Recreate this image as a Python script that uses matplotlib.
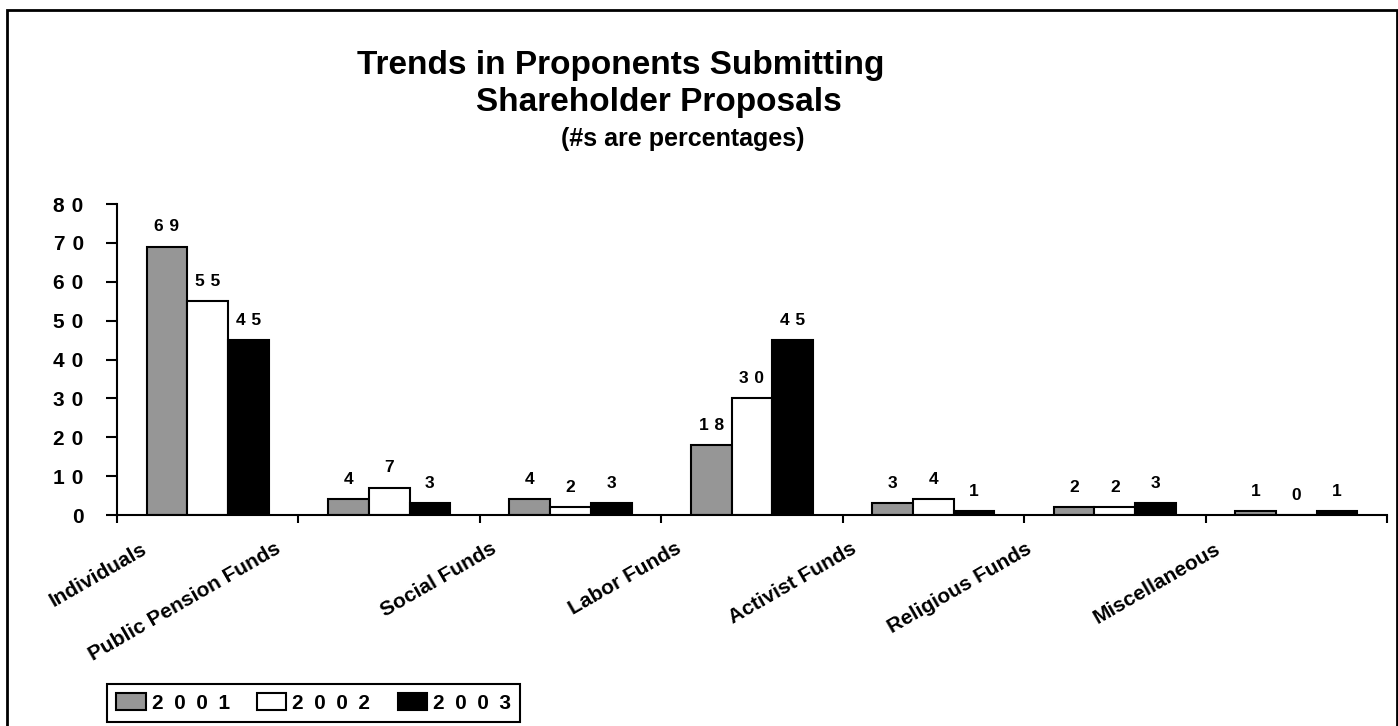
import numpy as np
import matplotlib
matplotlib.use("Agg")
import matplotlib.pyplot as plt
from matplotlib.patches import Rectangle
from matplotlib.transforms import ScaledTranslation, blended_transform_factory

plt.rcParams['font.family'] = ['Liberation Sans', 'DejaVu Sans']
plt.rcParams['font.weight'] = 'bold'

# --- data ---
categories = ["Individuals", "Public Pension Funds", "Social Funds", "Labor Funds",
              "Activist Funds", "Religious Funds", "Miscellaneous"]
years = ["2001", "2002", "2003"]
pct_2001 = [69, 4, 4, 18, 3, 2, 1]
pct_2002 = [55, 7, 2, 30, 4, 2, 0]
pct_2003 = [45, 3, 3, 45, 1, 3, 1]
y_ticks = [0, 10, 20, 30, 40, 50, 60, 70, 80]

colours = ["#969696", "#ffffff", "#000000"]
# the category labels sit a bit off the tick marks, like excel put them
label_shift = [0.17, -0.09, 0.10, 0.12, 0.08, 0.05, 0.09]


def spaced(s, gap="\u2004"):
    # excel spread the digits out
    return gap.join(s)


fig = plt.figure(figsize=(13.98, 7.26), dpi=100)
ax = fig.add_axes([0.0837, 0.2906, 0.9084, 0.4284])

x = np.arange(len(categories)) + 0.5
w = 0.2245
for j, vals in enumerate([pct_2001, pct_2002, pct_2003]):
    bars = ax.bar(x + (j - 1) * w, vals, w, color=colours[j], edgecolor="black",
                  linewidth=1.5, label=spaced(years[j], "\u2002"), zorder=3)
    for b, v in zip(bars, vals):
        ax.annotate(spaced(str(v)), (b.get_x() + b.get_width() / 2, v),
                    xytext=(0, 9), textcoords="offset points", ha="center",
                    va="bottom", fontsize=12.5, fontweight="bold")

ax.set_xlim(0, 7)
ax.set_ylim(0, 80)
for side in ["top", "right"]:
    ax.spines[side].set_visible(False)
for side in ["left", "bottom"]:
    ax.spines[side].set_linewidth(1.5)
    ax.spines[side].set_zorder(4)

ax.set_yticks(y_ticks, [spaced(str(t)) for t in y_ticks])
ax.tick_params(axis="y", length=8, width=1.5, pad=16, labelsize=15)
ax.set_xticks(np.arange(len(categories) + 1), [""] * (len(categories) + 1))
ax.tick_params(axis="x", length=6, width=1.5)

off = ScaledTranslation(0, -37 / 100, fig.dpi_scale_trans)
trans = blended_transform_factory(ax.transData, ax.transAxes) + off
for i, (name, s) in enumerate(zip(categories, label_shift)):
    ax.text(i + s, 0, name, transform=trans, rotation=30, rotation_mode="anchor",
            ha="right", va="baseline", fontsize=15, fontweight="bold", clip_on=False)

# titles
fig.text(620.5 / 1398, 1 - 74 / 726, "Trends in Proponents Submitting",
         ha="center", va="baseline", fontsize=24, fontweight="bold")
fig.text(658.5 / 1398, 1 - 111 / 726, "Shareholder Proposals",
         ha="center", va="baseline", fontsize=24, fontweight="bold")
fig.text(682.5 / 1398, 1 - 146 / 726, "(#s are percentages)",
         ha="center", va="baseline", fontsize=18, fontweight="bold")

leg = fig.legend(loc="lower left", bbox_to_anchor=(107 / 1398, 4 / 726), ncol=3,
                 frameon=True, fancybox=False, edgecolor="black", framealpha=1,
                 fontsize=15, handlelength=1.4, handleheight=0.85,
                 handletextpad=0.3, columnspacing=1.3, borderpad=0.45,
                 borderaxespad=0)
leg.get_frame().set_linewidth(1.5)

# border round the whole chart
fig.add_artist(Rectangle((7 / 1398, -0.05), 1390 / 1398, 1.05 - 10 / 726,
                         transform=fig.transFigure, fill=False, lw=2,
                         edgecolor="black"))

fig.savefig("out.png", dpi=100)
